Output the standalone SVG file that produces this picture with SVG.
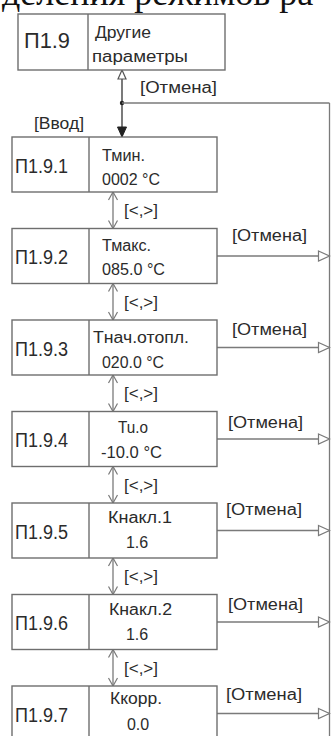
<svg xmlns="http://www.w3.org/2000/svg" width="331" height="736" viewBox="0 0 331 736">
<style>
.box{fill:#fff;stroke:#6e6e6e;stroke-width:1.4}
.div{stroke:#6e6e6e;stroke-width:1.4}
.t{font-family:"Liberation Sans","DejaVu Sans",sans-serif;fill:#2b2b2b}
.id{font-size:20px}
.v{font-size:16px}
.lbl{font-size:16px}
.ln{stroke:#7a7a7a;stroke-width:1.3;fill:none}
.dk{stroke:#333;stroke-width:1.3;fill:none}
.head{font-family:"Liberation Serif","Times New Roman",serif;font-size:36px;fill:#111}
</style>
<defs>
<marker id="otri" markerUnits="userSpaceOnUse" markerWidth="14" markerHeight="12" refX="11" refY="5" orient="auto-start-reverse" overflow="visible">
<path d="M0,0 L11,5 L0,10 Z" fill="#fff" stroke="#7a7a7a" stroke-width="1.2"/>
</marker>
<marker id="otriD" markerUnits="userSpaceOnUse" markerWidth="12" markerHeight="10" refX="9" refY="4" orient="auto-start-reverse" overflow="visible">
<path d="M0,0 L9,4 L0,8 Z" fill="#fff" stroke="#555" stroke-width="1.2"/>
</marker>
<marker id="ftri" markerUnits="userSpaceOnUse" markerWidth="12" markerHeight="10" refX="10" refY="4.5" orient="auto" overflow="visible">
<path d="M0,0 L10,4.5 L0,9 Z" fill="#222" stroke="#222" stroke-width="1"/>
</marker>
<marker id="vee" markerUnits="userSpaceOnUse" markerWidth="12" markerHeight="12" refX="8" refY="4.5" orient="auto-start-reverse" overflow="visible">
<path d="M0,0 L8,4.5 L0,9" fill="none" stroke="#7a7a7a" stroke-width="1.2"/>
</marker>
</defs>
<rect width="331" height="736" fill="#fff"/>
<text class="head" x="2" y="5">деления режимов ра</text>

<g id="connectors">
<line class="dk" x1="122" y1="70" x2="122" y2="137" marker-start="url(#otriD)" marker-end="url(#ftri)"/>
<circle cx="122" cy="103" r="2.2" fill="#222"/>
<line class="ln" x1="122" y1="103" x2="329.5" y2="103"/>
<line class="ln" x1="329.5" y1="103" x2="329.5" y2="736"/>
<text class="t lbl" x="140" y="93" textLength="77" lengthAdjust="spacingAndGlyphs">[Отмена]</text>
<text class="t lbl" x="34" y="129" textLength="50" lengthAdjust="spacingAndGlyphs">[Ввод]</text>

<line class="ln" x1="113" y1="192" x2="113" y2="228.5" marker-start="url(#vee)" marker-end="url(#vee)"/>
<text class="t lbl" x="124" y="216" textLength="34" lengthAdjust="spacingAndGlyphs">[&lt;,&gt;]</text>
<line class="ln" x1="113" y1="283.5" x2="113" y2="320" marker-start="url(#vee)" marker-end="url(#vee)"/>
<text class="t lbl" x="124" y="308" textLength="34" lengthAdjust="spacingAndGlyphs">[&lt;,&gt;]</text>
<line class="ln" x1="113" y1="375" x2="113" y2="411.5" marker-start="url(#vee)" marker-end="url(#vee)"/>
<text class="t lbl" x="124" y="399" textLength="34" lengthAdjust="spacingAndGlyphs">[&lt;,&gt;]</text>
<line class="ln" x1="113" y1="466.5" x2="113" y2="503" marker-start="url(#vee)" marker-end="url(#vee)"/>
<text class="t lbl" x="124" y="491" textLength="34" lengthAdjust="spacingAndGlyphs">[&lt;,&gt;]</text>
<line class="ln" x1="113" y1="558" x2="113" y2="594.5" marker-start="url(#vee)" marker-end="url(#vee)"/>
<text class="t lbl" x="124" y="582" textLength="34" lengthAdjust="spacingAndGlyphs">[&lt;,&gt;]</text>
<line class="ln" x1="113" y1="649.5" x2="113" y2="686" marker-start="url(#vee)" marker-end="url(#vee)"/>
<text class="t lbl" x="124" y="674" textLength="34" lengthAdjust="spacingAndGlyphs">[&lt;,&gt;]</text>

<line class="ln" x1="217" y1="256" x2="329.5" y2="256" marker-end="url(#otri)"/>
<text class="t lbl" x="232" y="241" textLength="75" lengthAdjust="spacingAndGlyphs">[Отмена]</text>
<line class="ln" x1="217" y1="347.5" x2="329.5" y2="347.5" marker-end="url(#otri)"/>
<text class="t lbl" x="232" y="335" textLength="75" lengthAdjust="spacingAndGlyphs">[Отмена]</text>
<line class="ln" x1="217" y1="439" x2="329.5" y2="439" marker-end="url(#otri)"/>
<text class="t lbl" x="228" y="428" textLength="75" lengthAdjust="spacingAndGlyphs">[Отмена]</text>
<line class="ln" x1="217" y1="530.5" x2="329.5" y2="530.5" marker-end="url(#otri)"/>
<text class="t lbl" x="226" y="515" textLength="76" lengthAdjust="spacingAndGlyphs">[Отмена]</text>
<line class="ln" x1="217" y1="622" x2="329.5" y2="622" marker-end="url(#otri)"/>
<text class="t lbl" x="228" y="610" textLength="75" lengthAdjust="spacingAndGlyphs">[Отмена]</text>
<line class="ln" x1="217" y1="713.5" x2="329.5" y2="713.5" marker-end="url(#otri)"/>
<text class="t lbl" x="226" y="700" textLength="76" lengthAdjust="spacingAndGlyphs">[Отмена]</text>
</g>

<g id="n_p19">
<rect class="box" x="18" y="14" width="207" height="56"/>
<line class="div" x1="88" y1="14" x2="88" y2="70"/>
<text class="t" x="24" y="48" font-size="22" textLength="46" lengthAdjust="spacingAndGlyphs">П1.9</text>
<text class="t v" x="95" y="38" textLength="56" lengthAdjust="spacingAndGlyphs">Другие</text>
<text class="t v" x="92" y="62" textLength="96" lengthAdjust="spacingAndGlyphs">параметры</text>
</g>

<g id="n_p191">
<rect class="box" x="12" y="137" width="205" height="55"/>
<line class="div" x1="89" y1="137" x2="89" y2="192"/>
<text class="t id" x="15" y="172.5" textLength="53" lengthAdjust="spacingAndGlyphs">П1.9.1</text>
<text class="t v" x="102" y="161" textLength="43" lengthAdjust="spacingAndGlyphs">Тмин.</text>
<text class="t v" x="102" y="185" textLength="58" lengthAdjust="spacingAndGlyphs">0002 °C</text>
</g>

<g id="n_p192">
<rect class="box" x="12" y="228.5" width="205" height="55"/>
<line class="div" x1="89" y1="228.5" x2="89" y2="283.5"/>
<text class="t id" x="15" y="264" textLength="53" lengthAdjust="spacingAndGlyphs">П1.9.2</text>
<text class="t v" x="102" y="251" textLength="49" lengthAdjust="spacingAndGlyphs">Тмакс.</text>
<text class="t v" x="102" y="275" textLength="63" lengthAdjust="spacingAndGlyphs">085.0 °C</text>
</g>

<g id="n_p193">
<rect class="box" x="12" y="320" width="205" height="55"/>
<line class="div" x1="89" y1="320" x2="89" y2="375"/>
<text class="t id" x="15" y="355.5" textLength="53" lengthAdjust="spacingAndGlyphs">П1.9.3</text>
<text class="t v" x="93" y="343" textLength="96" lengthAdjust="spacingAndGlyphs">Тнач.отопл.</text>
<text class="t v" x="102" y="368" textLength="62" lengthAdjust="spacingAndGlyphs">020.0 °C</text>
</g>

<g id="n_p194">
<rect class="box" x="12" y="411.5" width="205" height="55"/>
<line class="div" x1="89" y1="411.5" x2="89" y2="466.5"/>
<text class="t id" x="15" y="447" textLength="53" lengthAdjust="spacingAndGlyphs">П1.9.4</text>
<text class="t v" x="118" y="433" textLength="30" lengthAdjust="spacingAndGlyphs">Tu.o</text>
<text class="t v" x="101" y="458" textLength="61" lengthAdjust="spacingAndGlyphs">-10.0 °C</text>
</g>

<g id="n_p195">
<rect class="box" x="12" y="503" width="205" height="55"/>
<line class="div" x1="89" y1="503" x2="89" y2="558"/>
<text class="t id" x="15" y="538.5" textLength="53" lengthAdjust="spacingAndGlyphs">П1.9.5</text>
<text class="t v" x="108" y="523" textLength="64" lengthAdjust="spacingAndGlyphs">Кнакл.1</text>
<text class="t v" x="137" y="548" text-anchor="middle">1.6</text>
</g>

<g id="n_p196">
<rect class="box" x="12" y="594.5" width="205" height="55"/>
<line class="div" x1="89" y1="594.5" x2="89" y2="649.5"/>
<text class="t id" x="15" y="630" textLength="53" lengthAdjust="spacingAndGlyphs">П1.9.6</text>
<text class="t v" x="109" y="615" textLength="63" lengthAdjust="spacingAndGlyphs">Кнакл.2</text>
<text class="t v" x="137" y="640" text-anchor="middle">1.6</text>
</g>

<g id="n_p197">
<rect class="box" x="12" y="686" width="205" height="55"/>
<line class="div" x1="89" y1="686" x2="89" y2="741"/>
<text class="t id" x="15" y="721.5" textLength="53" lengthAdjust="spacingAndGlyphs">П1.9.7</text>
<text class="t v" x="110" y="704" textLength="52" lengthAdjust="spacingAndGlyphs">Ккорр.</text>
<text class="t v" x="138" y="730" text-anchor="middle">0.0</text>
</g>
</svg>
